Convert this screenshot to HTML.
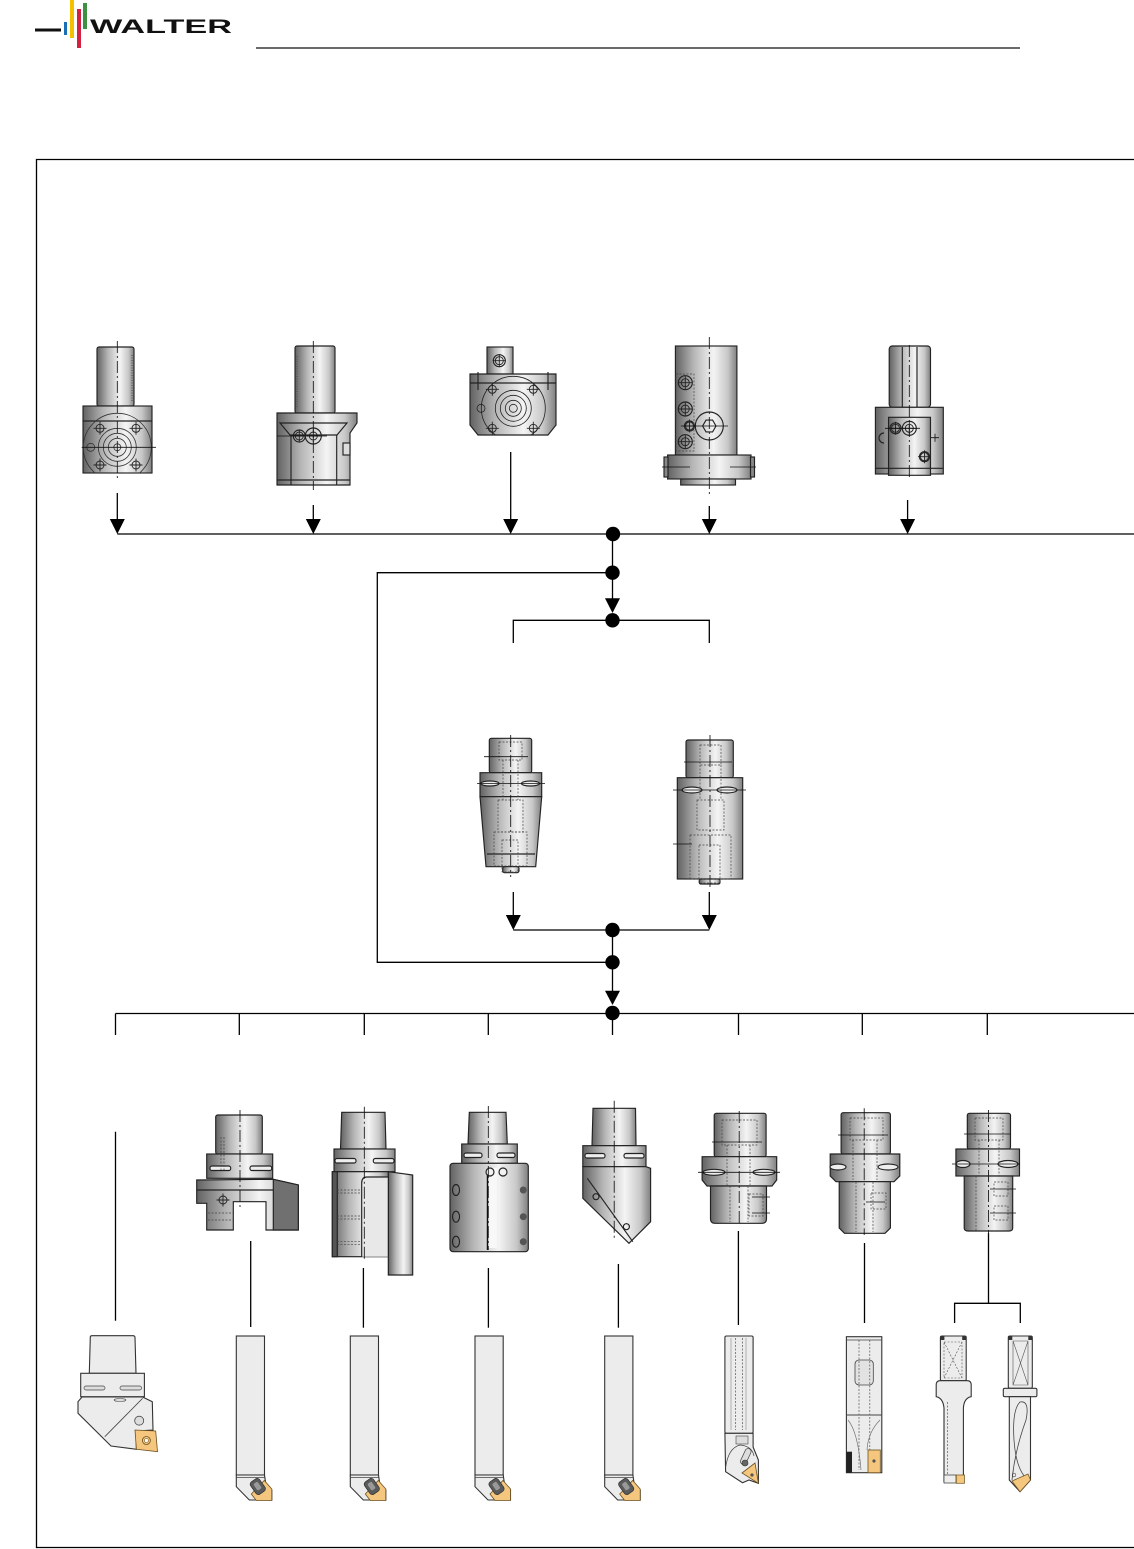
<!DOCTYPE html>
<html><head><meta charset="utf-8"><style>
html,body{margin:0;padding:0;background:#fff;}
svg{display:block;}
.cl{stroke:#111;stroke-width:0.85;stroke-dasharray:12 3 2 3;fill:none}
.hd{stroke:#444;stroke-width:0.7;stroke-dasharray:2 1.5;fill:none}
.ln{stroke:#000;stroke-width:1.3;fill:none}
.o{stroke:#222;stroke-width:1.15}
.b{stroke:#333;stroke-width:1.1;fill:#ececec}
</style></head><body>
<svg width="1134" height="1549" viewBox="0 0 1134 1549" xmlns="http://www.w3.org/2000/svg">
<defs>
<linearGradient id="m" x1="0" y1="0" x2="1" y2="0">
<stop offset="0" stop-color="#626262"/>
<stop offset="0.3" stop-color="#b6b6b6"/>
<stop offset="0.62" stop-color="#f4f4f4"/>
<stop offset="0.85" stop-color="#c8c8c8"/>
<stop offset="1" stop-color="#808080"/>
</linearGradient>
<g id="ch" stroke="#222" stroke-width="0.9" fill="none"><circle r="4"/><path d="M-6.5 0H6.5M0 -6.5V6.5"/></g>
<g id="bar">
<rect class="b" x="0" y="0" width="28.2" height="139"/>
<path class="b" d="M0 139 H28.2 L29.3 146.7 L35.5 154 V164 H13 L0 150.7 Z"/>
<line x1="0" y1="141.5" x2="28.2" y2="141.5" stroke="#444" stroke-width="0.8"/>
<path d="M15 158 L28 144.5 L35.5 153 V164.5 H20 Z" fill="#f5c77e" stroke="#6a5020" stroke-width="0.8"/>
<rect x="16" y="143" width="11" height="15" rx="3" transform="rotate(-35 21.5 150.5)" fill="#5a5a5a" stroke="#333" stroke-width="0.7"/>
<rect x="19" y="146" width="5" height="8" rx="1.5" transform="rotate(-35 21.5 150.5)" fill="#999"/>
</g>
<clipPath id="c1"><rect x="83" y="406" width="69" height="67"/></clipPath>
<clipPath id="c3"><path d="M470 374 H556 V425 L548 435 H478 L470 425 Z"/></clipPath>
</defs>

<!-- Logo -->
<line x1="35" y1="30" x2="61" y2="30" stroke="#111" stroke-width="3"/>
<rect x="64" y="22" width="3" height="13" fill="#1a6fb5"/>
<rect x="70" y="0" width="4" height="38" fill="#f5c000"/>
<rect x="77" y="9" width="4" height="39" fill="#d3213f"/>
<rect x="83" y="3" width="4" height="26" fill="#3d9140"/>
<text x="90" y="33" font-family="Liberation Sans, sans-serif" font-weight="bold" font-size="19" textLength="142" lengthAdjust="spacingAndGlyphs" fill="#111">WALTER</text>
<line x1="256" y1="48" x2="1020" y2="48" stroke="#111" stroke-width="1.2"/>

<!-- Frame -->
<path d="M1140 159.5 H36.5 V1547.5 H1140" fill="none" stroke="#000" stroke-width="1.3"/>

<!-- ===== Top row tools ===== -->
<!-- T1 -->
<g class="o">
<rect x="97" y="347" width="37" height="59" rx="2" fill="url(#m)"/>
<line x1="132" y1="355" x2="132" y2="402" stroke="#555" stroke-dasharray="1 1.5"/>
<rect x="83" y="406" width="69" height="67" fill="url(#m)"/>
<line x1="83" y1="421" x2="152" y2="421"/>
<g clip-path="url(#c1)" fill="none" stroke="#333" stroke-width="0.8">
<circle cx="117.3" cy="447.3" r="34"/>
<circle cx="117.3" cy="447.3" r="19"/>
<circle cx="117.3" cy="447.3" r="14"/>
<circle cx="117.3" cy="447.3" r="9"/>
<circle cx="117.3" cy="447.3" r="3.5"/>
<circle cx="90.7" cy="447.3" r="4"/>
</g>
</g>
<use href="#ch" x="100" y="428.3"/><use href="#ch" x="136" y="428.3"/>
<use href="#ch" x="100" y="465"/><use href="#ch" x="136" y="465"/>
<line class="cl" x1="117.3" y1="341" x2="117.3" y2="478"/>
<line x1="81.7" y1="447.3" x2="156" y2="447.3" stroke="#111" stroke-width="0.8"/>

<!-- T2 -->
<g class="o">
<rect x="295" y="346" width="40" height="67" rx="2" fill="url(#m)"/>
<line x1="297" y1="356" x2="297" y2="408" stroke="#555" stroke-dasharray="1 1.5"/>
<path d="M277 413 H357 V423 L350 433 V485 H277 Z" fill="url(#m)"/>
<path d="M280 423 H347 L337 435 H290 Z" fill="none"/>
<line x1="291" y1="435" x2="291" y2="485"/>
<line x1="336.7" y1="435" x2="336.7" y2="485"/>
<line x1="277" y1="480" x2="350" y2="480"/>
<circle cx="299.3" cy="436" r="6" fill="none"/>
<circle cx="313.3" cy="436" r="8" fill="none"/>
<rect x="343" y="443" width="7" height="12" fill="#ddd"/>
</g>
<use href="#ch" x="299.3" y="436"/><use href="#ch" x="313.3" y="436"/>
<line class="cl" x1="313.3" y1="341" x2="313.3" y2="490"/>
<line x1="277" y1="436" x2="327" y2="436" stroke="#111" stroke-width="0.8"/>

<!-- T3 -->
<g class="o">
<rect x="487" y="347" width="26" height="27" fill="url(#m)"/>
<circle cx="499.3" cy="360.7" r="6" fill="none"/>
<path d="M470 374 H556 V425 L548 435 H478 L470 425 Z" fill="url(#m)"/>
<line x1="470" y1="383" x2="556" y2="383"/>
<g clip-path="url(#c3)" fill="none" stroke-width="0.8">
<circle cx="513.3" cy="408.3" r="32"/>
<circle cx="513.3" cy="408.3" r="18"/>
<circle cx="513.3" cy="408.3" r="13"/>
<circle cx="513.3" cy="408.3" r="8"/>
<circle cx="513.3" cy="408.3" r="4"/>
<circle cx="481" cy="408.3" r="4"/>
</g>
<line x1="478" y1="372" x2="478" y2="390"/><line x1="548" y1="372" x2="548" y2="390"/>
</g>
<use href="#ch" x="499.3" y="360.7"/>
<use href="#ch" x="492.3" y="389.3"/><use href="#ch" x="533.3" y="389.3"/>
<use href="#ch" x="492.3" y="428.3"/><use href="#ch" x="533.3" y="428.3"/>

<!-- T4 -->
<g class="o">
<rect x="675.4" y="346" width="61.5" height="109" fill="url(#m)"/>
<rect x="667.6" y="455" width="83.4" height="24" fill="url(#m)"/>
<rect x="664" y="457" width="4" height="20" fill="#888"/>
<rect x="750.5" y="457" width="4" height="20" fill="#888"/>
<rect x="680.7" y="479" width="54.8" height="6" fill="url(#m)"/>
<circle cx="685.3" cy="382.7" r="7" fill="none"/>
<circle cx="685.3" cy="409" r="7" fill="none"/>
<circle cx="685.3" cy="441.7" r="7" fill="none"/>
<circle cx="689.5" cy="426" r="5" fill="none"/>
<circle cx="709.3" cy="426" r="14" fill="none"/>
<path d="M716 426 L712.6 431.9 H706 L702.6 426 L706 420.1 H712.6 Z" fill="none"/>
</g>
<rect class="hd" x="676" y="374" width="18" height="77"/>
<use href="#ch" x="685.3" y="382.7"/><use href="#ch" x="685.3" y="409"/>
<use href="#ch" x="685.3" y="441.7"/><use href="#ch" x="689.5" y="426"/>
<line x1="681" y1="426" x2="728" y2="426" stroke="#111" stroke-width="0.8"/>
<path d="M662 467 H690 M730 467 H756" stroke="#111" stroke-width="0.8"/>
<line class="cl" x1="709.3" y1="337" x2="709.3" y2="494"/>

<!-- T5 -->
<g class="o">
<rect x="889.2" y="346" width="41.3" height="61.3" rx="3" fill="url(#m)"/>
<line x1="902.3" y1="347" x2="902.3" y2="407"/>
<line x1="917" y1="347" x2="917" y2="407"/>
<rect x="875.4" y="407.3" width="67.9" height="66.7" fill="url(#m)"/>
<rect x="888.5" y="417.3" width="42" height="58" fill="url(#m)"/>
<line x1="875.4" y1="468.3" x2="943.3" y2="468.3"/>
<circle cx="895.5" cy="428.3" r="5.5" fill="none"/>
<circle cx="909.3" cy="428.3" r="7" fill="none"/>
<path d="M884 433 A5 5 0 0 0 884 443" fill="none"/>
<circle cx="924.5" cy="456.7" r="5" fill="none"/>
</g>
<use href="#ch" x="895.5" y="428.3"/><use href="#ch" x="909.3" y="428.3"/>
<use href="#ch" x="924.5" y="456.7"/>
<path d="M931 437.7 H939 M935 433.7 V441.7" stroke="#111" stroke-width="0.8"/>
<line x1="885" y1="428.3" x2="920" y2="428.3" stroke="#111" stroke-width="0.8"/>
<line class="cl" x1="909.3" y1="345" x2="909.3" y2="478"/>

<!-- Top arrows & main bus -->
<g class="ln">
<line x1="117.3" y1="493" x2="117.3" y2="520"/>
<line x1="313.3" y1="505" x2="313.3" y2="520"/>
<line x1="510.7" y1="452" x2="510.7" y2="520"/>
<line x1="709.3" y1="506" x2="709.3" y2="520"/>
<line x1="907.6" y1="500" x2="907.6" y2="520"/>
<line x1="117.3" y1="534" x2="1134" y2="534"/>
<line x1="612.5" y1="534" x2="612.5" y2="600"/>
<path d="M612.5 572.7 H377.3 V962.3 H612.5"/>
<path d="M513.3 643 V620.3 H709.3 V643"/>
<line x1="513.3" y1="892" x2="513.3" y2="916"/>
<line x1="709.3" y1="892" x2="709.3" y2="916"/>
<line x1="513.3" y1="930" x2="709.3" y2="930"/>
<line x1="612.5" y1="930" x2="612.5" y2="992"/>
<line x1="115.5" y1="1013.5" x2="1134" y2="1013.5"/>
<path d="M115.5 1013.5 V1035 M239.3 1013.5 V1035 M364.3 1013.5 V1035 M488.3 1013.5 V1035 M612.5 1013.5 V1035 M738.5 1013.5 V1035 M862.3 1013.5 V1035 M987.3 1013.5 V1035"/>
<line x1="115.5" y1="1131.7" x2="115.5" y2="1320.7"/>
<line x1="250.7" y1="1241" x2="250.7" y2="1327"/>
<line x1="363.4" y1="1268" x2="363.4" y2="1327.7"/>
<line x1="488.4" y1="1268" x2="488.4" y2="1327.7"/>
<line x1="618.4" y1="1264" x2="618.4" y2="1327.7"/>
<line x1="738.4" y1="1231" x2="738.4" y2="1325"/>
<line x1="864.5" y1="1243" x2="864.5" y2="1323"/>
<path d="M988.5 1233 V1303.3 M954.6 1323 V1303.3 H1020.3 V1323"/>
</g>
<g fill="#000">
<polygon points="109.8,519 124.8,519 117.3,534"/>
<polygon points="305.8,519 320.8,519 313.3,534"/>
<polygon points="503.2,519 518.2,519 510.7,534"/>
<polygon points="701.8,519 716.8,519 709.3,534"/>
<polygon points="900.1,519 915.1,519 907.6,534"/>
<polygon points="605,598.3 620,598.3 612.5,613"/>
<polygon points="505.8,915 520.8,915 513.3,930"/>
<polygon points="701.8,915 716.8,915 709.3,930"/>
<polygon points="605,990.7 620,990.7 612.5,1005"/>
<circle cx="613" cy="534" r="7.2"/>
<circle cx="612.5" cy="572.7" r="7.2"/>
<circle cx="612.5" cy="620.3" r="7.2"/>
<circle cx="612.5" cy="930" r="7.2"/>
<circle cx="612.5" cy="962.3" r="7.2"/>
<circle cx="612.5" cy="1013" r="7.2"/>
</g>

<!-- ===== Middle adapters ===== -->
<!-- T6 -->
<g class="o">
<rect x="489.3" y="738.3" width="42.4" height="34.4" rx="2" fill="url(#m)"/>
<rect x="480" y="772.7" width="61.7" height="24" fill="url(#m)"/>
<path d="M480 796.7 H541.7 L535.7 866.7 H486 Z" fill="url(#m)"/>
<rect x="502.7" y="866.7" width="16.3" height="6" rx="2" fill="url(#m)"/>
<line x1="487" y1="854" x2="535" y2="854"/>
<ellipse cx="490" cy="783.5" rx="9" ry="2.5" fill="#eee"/>
<ellipse cx="530.5" cy="783.5" rx="9" ry="2.5" fill="#eee"/>
</g>
<rect class="hd" x="499" y="742" width="23" height="18"/>
<path class="hd" d="M503 760 V800 M518 760 V800"/>
<rect class="hd" x="498" y="800" width="25" height="32"/>
<rect class="hd" x="494" y="832" width="33" height="34"/>
<rect class="hd" x="502" y="840" width="16" height="32"/>
<line class="cl" x1="510.7" y1="735" x2="510.7" y2="877"/>
<path d="M484 756.7 H528 M477 783.5 H545" stroke="#111" stroke-width="0.8"/>

<!-- T7 -->
<g class="o">
<rect x="686" y="740" width="47.3" height="37.7" rx="2" fill="url(#m)"/>
<rect x="677.3" y="777.7" width="65.4" height="101.3" fill="url(#m)"/>
<rect x="699.3" y="879" width="20.7" height="5" rx="1.5" fill="url(#m)"/>
<ellipse cx="692" cy="790" rx="10" ry="3" fill="#eee"/>
<ellipse cx="727" cy="790" rx="10" ry="3" fill="#eee"/>
</g>
<rect class="hd" x="700" y="745" width="21" height="20"/>
<path class="hd" d="M700 765 V800 M721 765 V800"/>
<rect class="hd" x="697" y="800" width="27" height="30"/>
<rect class="hd" x="690" y="835" width="41" height="44"/>
<rect class="hd" x="699" y="845" width="21" height="38"/>
<line class="cl" x1="710" y1="735" x2="710" y2="888"/>
<path d="M684 762 H732 M673 790 H746 M673 844 H692" stroke="#111" stroke-width="0.8"/>

<!-- ===== Lower holders ===== -->
<!-- A -->
<g class="o">
<rect x="215.7" y="1115" width="46.6" height="39" rx="2" fill="url(#m)"/>
<rect x="206.7" y="1154" width="66" height="24.3" fill="url(#m)"/>
<rect x="210" y="1166" width="20.7" height="4.5" rx="2" fill="#eee"/>
<rect x="250" y="1166" width="21.7" height="4.5" rx="2" fill="#eee"/>
<path d="M196.7 1180 L273.3 1179.3 L298.3 1185 V1230 H266 V1201.7 H233.3 V1230 H206.7 V1203.3 H196.7 Z" fill="url(#m)"/>
<path d="M273.3 1179.3 L298.3 1185 V1230 H273.3 Z" fill="#707070"/>
<line x1="196.7" y1="1190" x2="273" y2="1190"/>
</g>
<use href="#ch" x="223" y="1200"/>
<path class="hd" d="M208 1213 H233 M208 1220 H233 M221 1137 V1170 M224 1137 V1170"/>
<line class="cl" x1="240" y1="1110" x2="240" y2="1210"/>

<!-- B -->
<g class="o">
<path d="M341.7 1112.3 H385 L386 1149 H340.5 Z" fill="url(#m)"/>
<rect x="334" y="1149" width="61" height="22.7" fill="url(#m)"/>
<rect x="335" y="1158.5" width="21" height="4.5" rx="2" fill="#eee"/>
<rect x="373.3" y="1158.5" width="20.7" height="4.5" rx="2" fill="#eee"/>
<rect x="332.3" y="1171.7" width="56" height="85" fill="url(#m)"/>
<path d="M388.3 1171.7 L412.7 1175 V1275 H388.3 Z" fill="url(#m)"/>
<path d="M361.7 1256.7 V1183 Q361.7 1177 367 1177 H388.3 V1256.7" fill="#e8e8e8"/>
<rect x="332.3" y="1171.7" width="5" height="85" fill="#555"/>
</g>
<path class="hd" d="M337 1190 H361 M337 1193 H361 M337 1216 H361 M337 1219 H361 M337 1241.7 H361 M337 1244.7 H361"/>
<line class="cl" x1="364.3" y1="1106.7" x2="364.3" y2="1259"/>

<!-- C -->
<g class="o">
<path d="M469.3 1112.3 H506 L507.3 1144 H468 Z" fill="url(#m)"/>
<rect x="461.7" y="1144" width="55.6" height="19.3" fill="url(#m)"/>
<rect x="464" y="1153" width="18" height="4.5" rx="2" fill="#eee"/>
<rect x="497" y="1153" width="18" height="4.5" rx="2" fill="#eee"/>
<rect x="450" y="1163.3" width="78.3" height="88.4" rx="3" fill="url(#m)"/>
<rect x="487" y="1168" width="10" height="80" fill="#f8f8f8" stroke="none"/>
<line x1="487.5" y1="1170" x2="487.5" y2="1250" stroke="#111" stroke-width="1.5"/>
<ellipse cx="456" cy="1190" rx="3.5" ry="5.5" fill="none"/>
<ellipse cx="456" cy="1216.7" rx="3.5" ry="5.5" fill="none"/>
<ellipse cx="456" cy="1241.7" rx="3.5" ry="5.5" fill="none"/>
<circle cx="490" cy="1172" r="4" fill="#f2f2f2"/>
<circle cx="503" cy="1172" r="4" fill="#f2f2f2"/>
</g>
<circle cx="523.3" cy="1190" r="3.5" fill="#555"/>
<circle cx="523.3" cy="1216.7" r="3.5" fill="#555"/>
<circle cx="523.3" cy="1241.7" r="3.5" fill="#555"/>
<line class="cl" x1="488.3" y1="1106" x2="488.3" y2="1250"/>

<!-- D -->
<g class="o">
<path d="M593 1108.3 H635.5 L636 1145.7 H592 Z" fill="url(#m)"/>
<rect x="582.8" y="1145.7" width="63.2" height="21" fill="url(#m)"/>
<rect x="585" y="1153.5" width="20" height="4.5" rx="2" fill="#eee"/>
<rect x="624" y="1153.5" width="20" height="4.5" rx="2" fill="#eee"/>
<path d="M582.8 1166.7 H646 L650.6 1168.3 V1221.7 L629 1243.3 L582.8 1198.3 Z" fill="url(#m)"/>
<line x1="587.3" y1="1178.3" x2="632.8" y2="1241.7"/>
<circle cx="596" cy="1196.7" r="3" fill="none"/>
<circle cx="626.4" cy="1226.7" r="3" fill="none"/>
</g>
<line class="cl" x1="614.2" y1="1100.7" x2="614.2" y2="1238.3"/>

<!-- E -->
<g class="o">
<rect x="714.2" y="1113.3" width="51.9" height="43.4" rx="2" fill="url(#m)"/>
<path d="M702.1 1156.7 H776.7 V1180 L772 1186 H707 L702.1 1180 Z" fill="url(#m)"/>
<ellipse cx="714" cy="1172.3" rx="11" ry="3" fill="#eee"/>
<ellipse cx="764" cy="1172.3" rx="11" ry="3" fill="#eee"/>
<path d="M710.5 1186 H766.5 V1219 Q766.5 1223.3 762 1223.3 H715 Q710.5 1223.3 710.5 1219 Z" fill="url(#m)"/>
</g>
<path class="hd" d="M722 1120 H757 V1145 H722 Z M727 1145 V1185 M750 1145 V1185 M730 1186 V1222 M748 1186 V1222"/>
<rect class="hd" x="749" y="1194" width="14" height="22"/>
<path d="M712 1142 H762 M698 1172.3 H780 M752 1197 H770 M752 1213 H770" stroke="#111" stroke-width="0.8"/>
<line class="cl" x1="739.2" y1="1111" x2="739.2" y2="1225"/>

<!-- F -->
<g class="o">
<rect x="841.1" y="1112.7" width="49.3" height="41.3" rx="2" fill="url(#m)"/>
<path d="M830.2 1154 H899.8 V1176 L894 1181.7 H836 L830.2 1176 Z" fill="url(#m)"/>
<ellipse cx="838" cy="1167" rx="8" ry="3" fill="#eee"/>
<ellipse cx="888" cy="1167" rx="10" ry="3" fill="#eee"/>
<path d="M839.2 1181.7 H890.4 V1228 L885 1233.3 H844.5 L839.2 1228 Z" fill="url(#m)"/>
</g>
<path class="hd" d="M850 1118 H883 V1140 H850 Z M853 1140 V1180 M877 1140 V1180 M856 1182 V1232 M873 1182 V1232"/>
<rect class="hd" x="871" y="1193" width="15" height="16"/>
<path d="M838 1135 H888 M866 1202 H885" stroke="#111" stroke-width="0.8"/>
<line class="cl" x1="864.2" y1="1108.3" x2="864.2" y2="1235"/>

<!-- G -->
<g class="o">
<rect x="967.3" y="1113.3" width="43.2" height="35.7" rx="2" fill="url(#m)"/>
<rect x="955.9" y="1149" width="63.6" height="27" fill="url(#m)"/>
<ellipse cx="963" cy="1164" rx="7" ry="3.5" fill="#eee"/>
<ellipse cx="1008" cy="1164" rx="10" ry="3.5" fill="#eee"/>
<path d="M964.2 1176 H1012.7 V1228 Q1012.7 1231 1009 1231 H968 Q964.2 1231 964.2 1228 Z" fill="url(#m)"/>
</g>
<path class="hd" d="M975 1118 H1003 V1140 H975 Z M979 1140 V1176 M999 1140 V1176 M976 1176 V1231"/>
<rect class="hd" x="994" y="1182" width="14" height="14"/>
<rect class="hd" x="994" y="1206" width="14" height="14"/>
<path d="M964 1134 H1010 M952 1164 H1020 M990 1189 H1016 M990 1213 H1016" stroke="#111" stroke-width="0.8"/>
<line class="cl" x1="988.5" y1="1110" x2="988.5" y2="1235"/>

<!-- ===== Bottom cutting tools ===== -->
<!-- Bottom-left head -->
<g>
<path class="b" d="M90.3 1337 Q90.3 1335.7 92 1335.7 H133 Q135 1335.7 135 1337.5 L136 1373.3 H89.3 Z"/>
<rect class="b" x="80.7" y="1373.3" width="63.7" height="23.4"/>
<rect x="84" y="1386" width="21" height="4" rx="2" fill="#ddd" stroke="#444" stroke-width="0.7"/>
<rect x="120" y="1386" width="21.6" height="4" rx="2" fill="#ddd" stroke="#444" stroke-width="0.7"/>
<path class="b" d="M78 1401.7 L82 1397 H142.6 L152.3 1401.7 L153 1430 L136 1431 L136.4 1449.3 L111 1446 L78 1413.3 Z"/>
<line x1="104.8" y1="1436.7" x2="142.6" y2="1398.3" stroke="#444" stroke-width="0.8"/>
<ellipse cx="120" cy="1400" rx="6" ry="1.5" fill="#ddd" stroke="#444" stroke-width="0.6"/>
<circle cx="139.2" cy="1420.7" r="4.5" fill="#ddd" stroke="#444" stroke-width="0.8"/>
<path d="M135 1430 L155.7 1431 L157.5 1451.7 L136.4 1449.3 Z" fill="#f5c77e" stroke="#6a5020" stroke-width="0.8"/>
<circle cx="146.4" cy="1440.5" r="4" fill="none" stroke="#6a5020" stroke-width="0.8"/>
<circle cx="146.4" cy="1440.5" r="2" fill="#fff" stroke="#6a5020" stroke-width="0.6"/>
</g>

<!-- bar tools -->
<use href="#bar" x="236.3" y="1336"/>
<use href="#bar" x="350.3" y="1336"/>
<use href="#bar" x="475" y="1336"/>
<use href="#bar" x="604.7" y="1336"/>

<!-- boring bar -->
<g>
<rect class="b" x="724.9" y="1336" width="28.2" height="97.3" rx="1.5"/>
<path d="M735.5 1338 V1430 M742.5 1338 V1430" stroke="#555" stroke-width="0.7" stroke-dasharray="2 1.5" fill="none"/>
<path d="M731 1338 V1430 M746 1338 V1430" stroke="#888" stroke-width="0.6" fill="none"/>
<path class="b" d="M724.9 1433.3 H753.1 V1447 L758.4 1460 V1483.3 L749 1480 L742.5 1482.7 L725.6 1471.7 Z"/>
<path d="M725.6 1468 Q728 1448 740 1445 Q752 1446 754 1456" fill="none" stroke="#444" stroke-width="0.7"/>
<rect x="736" y="1436" width="12" height="8" fill="#ddd" stroke="#444" stroke-width="0.6"/>
<rect x="743" y="1448" width="6" height="17" rx="3" transform="rotate(25 746 1456)" fill="#ddd" stroke="#444" stroke-width="0.7"/>
<circle cx="745" cy="1463" r="3" fill="#666" stroke="#333" stroke-width="0.6"/>
<path d="M742 1473 L755 1463 L758.4 1483.3 Z" fill="#f5c77e" stroke="#6a5020" stroke-width="0.8"/>
<circle cx="752" cy="1475" r="1.6" fill="#555"/>
</g>

<!-- end mill -->
<g>
<rect class="b" x="846.4" y="1336.7" width="35.4" height="136"/>
<line x1="846.4" y1="1415" x2="881.8" y2="1415" stroke="#444" stroke-width="0.9"/>
<rect x="855" y="1360" width="18.3" height="25" rx="4" fill="#e2e2e2" stroke="#444" stroke-width="0.8"/>
<line x1="846.4" y1="1340" x2="881.8" y2="1340" stroke="#444" stroke-width="0.7"/>
<path d="M859 1340 V1470 M869.8 1340 V1470" stroke="#555" stroke-width="0.7" stroke-dasharray="2 1.5" fill="none"/>
<path d="M848 1420 Q858 1432 861 1470 M880 1420 Q868 1432 867 1450" fill="none" stroke="#666" stroke-width="0.6"/>
<rect x="846.4" y="1451.7" width="5.6" height="21" fill="#222"/>
<rect x="868" y="1450" width="12.3" height="22.7" fill="#f5c77e" stroke="#6a5020" stroke-width="0.8"/>
<circle cx="874" cy="1461" r="1.6" fill="#555"/>
</g>

<!-- drill 1 -->
<g>
<rect class="b" x="940.4" y="1336" width="25.8" height="44.7" rx="1.5"/>
<path d="M944 1342 H962 V1378 H944 Z M944 1342 L962 1378 M962 1342 L944 1378" fill="none" stroke="#555" stroke-width="0.6" stroke-dasharray="2 1.5"/>
<rect x="940.4" y="1336" width="4" height="4" fill="#333"/>
<rect x="962.2" y="1336" width="4" height="4" fill="#333"/>
<path class="b" d="M936.2 1385 Q936.2 1380.7 940 1380.7 H967.4 Q971.2 1380.7 971.2 1385 V1396.7 Q964 1398 963.4 1408 V1481.7 H944 V1408 Q943 1398 936.2 1396.7 Z"/>
<path d="M947.5 1402 V1475" stroke="#555" stroke-width="0.7" stroke-dasharray="2 1.5"/>
<rect x="944" y="1475" width="12" height="8" fill="#eee" stroke="#333" stroke-width="0.7"/>
<rect x="956.3" y="1475" width="8.2" height="8.3" fill="#f5c77e" stroke="#6a5020" stroke-width="0.7"/>
</g>

<!-- drill 2 -->
<g>
<rect class="b" x="1008.3" y="1336" width="24" height="52.3" rx="1.5"/>
<path d="M1013 1341 H1028 V1385 H1013 Z M1013 1341 L1028 1385 M1028 1341 L1013 1385" fill="none" stroke="#555" stroke-width="0.6"/>
<rect x="1008.3" y="1336" width="4" height="4" fill="#333"/>
<rect x="1028.3" y="1336" width="4" height="4" fill="#333"/>
<rect class="b" x="1003.3" y="1388.3" width="33.6" height="8.4" rx="1.5"/>
<path class="b" d="M1009.3 1396.7 H1030.5 V1480 L1020 1491.7 L1009.3 1480 Z"/>
<path d="M1012 1480 Q1015 1450 1026 1420 Q1030 1400 1020 1402 Q1012 1410 1014 1440 Q1016 1470 1028 1480" fill="none" stroke="#444" stroke-width="0.8"/>
<circle cx="1014" cy="1475" r="1.8" fill="none" stroke="#444" stroke-width="0.6"/>
<path d="M1012 1481 L1020 1491.7 L1030.5 1480 L1028 1474 Z" fill="#f5c77e" stroke="#6a5020" stroke-width="0.7"/>
</g>

</svg>
</body></html>
